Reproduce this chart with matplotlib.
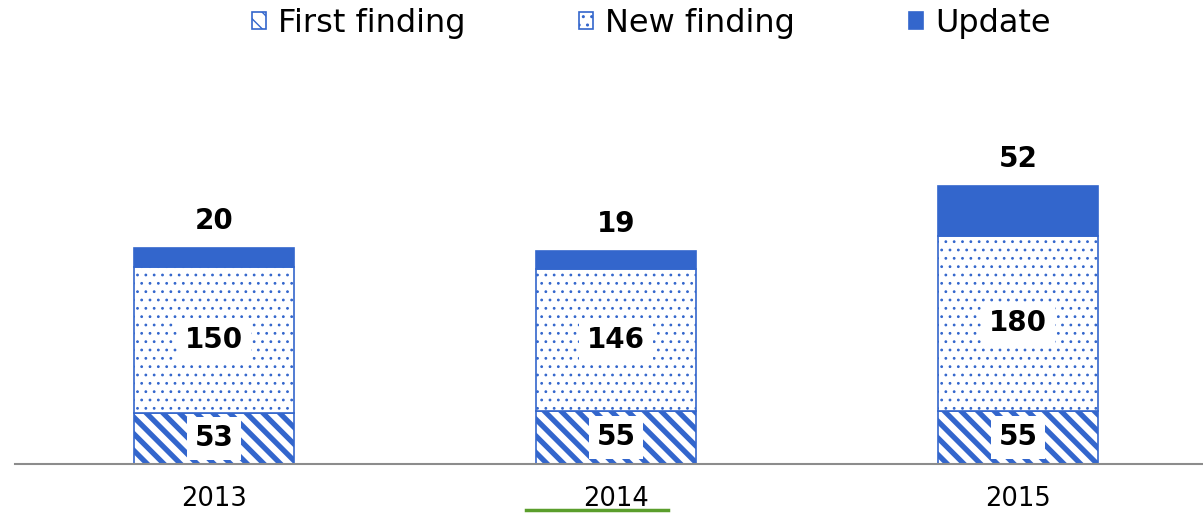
import matplotlib.pyplot as plt
import matplotlib as mpl
from matplotlib.lines import Line2D

years = ['2013', '2014', '2015']
first_finding = [53, 55, 55]
new_finding = [150, 146, 180]
update = [20, 19, 52]

blue = '#3366CC'
plt.rcParams['font.family'] = ['DejaVu Sans']

fig = plt.figure(figsize=(12.03, 5.13), dpi=100)
ax = fig.add_axes([15 / 1203, 49 / 513, 1 - 15 / 1203, 388 / 513])

x = range(len(years))
width = 0.4

def make_bars(vals, bottom, hatch, hlw, label, face='white'):
    with mpl.rc_context({'hatch.color': blue, 'hatch.linewidth': hlw}):
        bars = ax.bar(x, vals, width, bottom=bottom, color=face, edgecolor=blue,
                      hatch=hatch, linewidth=1.2, label=label)
    for b in bars:
        if hasattr(b, 'set_hatch_linewidth'):
            b.set_hatch_linewidth(hlw)
    return bars

bars1 = make_bars(first_finding, 0, '\\\\', 3.8, 'First finding')
bars2 = make_bars(new_finding, first_finding, '..', 0.8, 'New finding')
bottom3 = [a + b for a, b in zip(first_finding, new_finding)]
bars3 = make_bars(update, bottom3, None, 1.0, 'Update', face=blue)

box = dict(facecolor='white', edgecolor='none', pad=5.5)
for i in x:
    ax.text(i, first_finding[i] / 2, str(first_finding[i]), ha='center', va='center',
            fontsize=20, fontweight='bold', bbox=box)
    ax.text(i, first_finding[i] + new_finding[i] / 2, str(new_finding[i]), ha='center',
            va='center', fontsize=20, fontweight='bold', bbox=box)
    ax.annotate(str(update[i]), (i, bottom3[i] + update[i]), xytext=(0, 9),
                textcoords='offset points', ha='center', va='bottom',
                fontsize=20, fontweight='bold')

ax.set_xlim(-0.495, 2.46)
ax.set_ylim(0, 400)
ax.set_xticks(list(x))
ax.set_xticklabels(years, fontsize=18.5)
ax.tick_params(axis='x', length=0, pad=16)
ax.set_yticks([])
for s in ['top', 'right', 'left']:
    ax.spines[s].set_visible(False)
ax.spines['bottom'].set_color('#8c8c8c')
ax.spines['bottom'].set_linewidth(1.5)

fig.legend(loc='upper left', bbox_to_anchor=(252 / 1203, 1 - 8 / 513), ncol=3, frameon=False,
           fontsize=23, handlelength=0.45, handleheight=0.45, handletextpad=0.37,
           columnspacing=3.55, borderaxespad=0, borderpad=0)

# green underline below 2014
fig.add_artist(Line2D([526 / 1203, 668 / 1203], [3 / 513, 3 / 513], color='#5a9e2c', linewidth=2.5))

fig.savefig('out.png', dpi=100)
